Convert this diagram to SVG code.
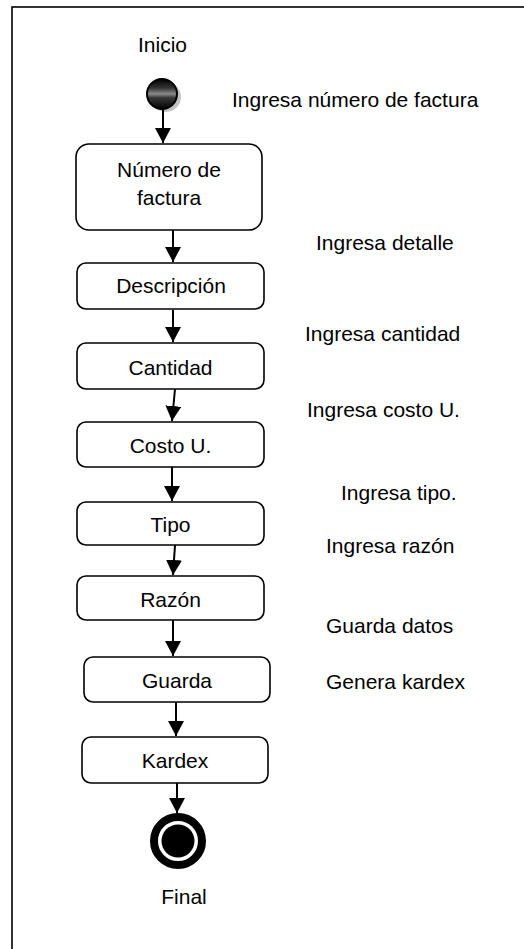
<svg xmlns="http://www.w3.org/2000/svg" width="524" height="949" viewBox="0 0 524 949">
<style>
text{font-family:"Liberation Sans",Arial,sans-serif;font-size:21px;fill:#000}
.box{fill:#fff;stroke:#000;stroke-width:1.6}
.c{text-anchor:middle}
.conn line{stroke:#000;stroke-width:2;marker-end:url(#arr)}
</style>
<defs>
<marker id="arr" markerUnits="userSpaceOnUse" markerWidth="16" markerHeight="16" refX="15" refY="8" orient="auto">
<path d="M0,0 L15,8 L0,16 Z" fill="#000"/>
</marker>
<linearGradient id="sg" x1="0" y1="0" x2="0" y2="1">
<stop offset="0" stop-color="#000"/>
<stop offset="0.3" stop-color="#333"/>
<stop offset="0.5" stop-color="#8a8a8a"/>
<stop offset="0.62" stop-color="#3a3a3a"/>
<stop offset="1" stop-color="#000"/>
</linearGradient>
</defs>
<rect x="12" y="7" width="530" height="960" fill="#fff" stroke="#000" stroke-width="1.6"/>
<g id="inicio">
<text x="138" y="52">Inicio</text>
<circle cx="166" cy="97" r="15" fill="#999" opacity="0.6"/>
<circle cx="162" cy="94" r="15" fill="url(#sg)" stroke="#000" stroke-width="2"/>
</g>
<g id="labels">
<text x="232" y="107">Ingresa número de factura</text>
<text x="316" y="250">Ingresa detalle</text>
<text x="305" y="341">Ingresa cantidad</text>
<text x="307" y="417">Ingresa costo U.</text>
<text x="341" y="500">Ingresa tipo.</text>
<text x="326" y="553">Ingresa razón</text>
<text x="326" y="633">Guarda datos</text>
<text x="326" y="689">Genera kardex</text>
</g>
<g id="numero">
<rect class="box" x="76" y="144" width="186" height="86" rx="13"/>
<text class="c" x="169" y="177">Número de</text>
<text class="c" x="169" y="205">factura</text>
</g>
<g id="descripcion">
<rect class="box" x="77" y="263" width="187" height="46" rx="9"/>
<text class="c" x="171" y="293">Descripción</text>
</g>
<g id="cantidad">
<rect class="box" x="77" y="343" width="187" height="46" rx="9"/>
<text class="c" x="170.5" y="375">Cantidad</text>
</g>
<g id="costo">
<rect class="box" x="77" y="422" width="187" height="45" rx="9"/>
<text class="c" x="170.5" y="453">Costo U.</text>
</g>
<g id="tipo">
<rect class="box" x="77" y="502" width="187" height="43" rx="9"/>
<text class="c" x="170.5" y="532">Tipo</text>
</g>
<g id="razon">
<rect class="box" x="77" y="576" width="187" height="44" rx="9"/>
<text class="c" x="170.5" y="607">Razón</text>
</g>
<g id="guarda">
<rect class="box" x="84" y="657" width="186" height="45" rx="9"/>
<text class="c" x="177" y="688">Guarda</text>
</g>
<g id="kardex">
<rect class="box" x="82" y="737" width="186" height="46" rx="9"/>
<text class="c" x="175" y="768">Kardex</text>
</g>
<g id="final">
<circle cx="178" cy="841" r="24" fill="#fff" stroke="#000" stroke-width="8"/>
<circle cx="178" cy="841" r="16.5" fill="#000"/>
<text class="c" x="184" y="904">Final</text>
</g>
<g id="connectors" class="conn">
<line x1="163" y1="110" x2="163" y2="143"/>
<line x1="173" y1="230" x2="173" y2="262"/>
<line x1="173" y1="310" x2="173" y2="342"/>
<line x1="175" y1="389" x2="172" y2="421"/>
<line x1="172" y1="467" x2="172" y2="501"/>
<line x1="175" y1="545" x2="173" y2="575"/>
<line x1="173" y1="620" x2="173" y2="656"/>
<line x1="176" y1="702" x2="176" y2="736"/>
<line x1="177" y1="783" x2="177" y2="813"/>
</g>
</svg>
